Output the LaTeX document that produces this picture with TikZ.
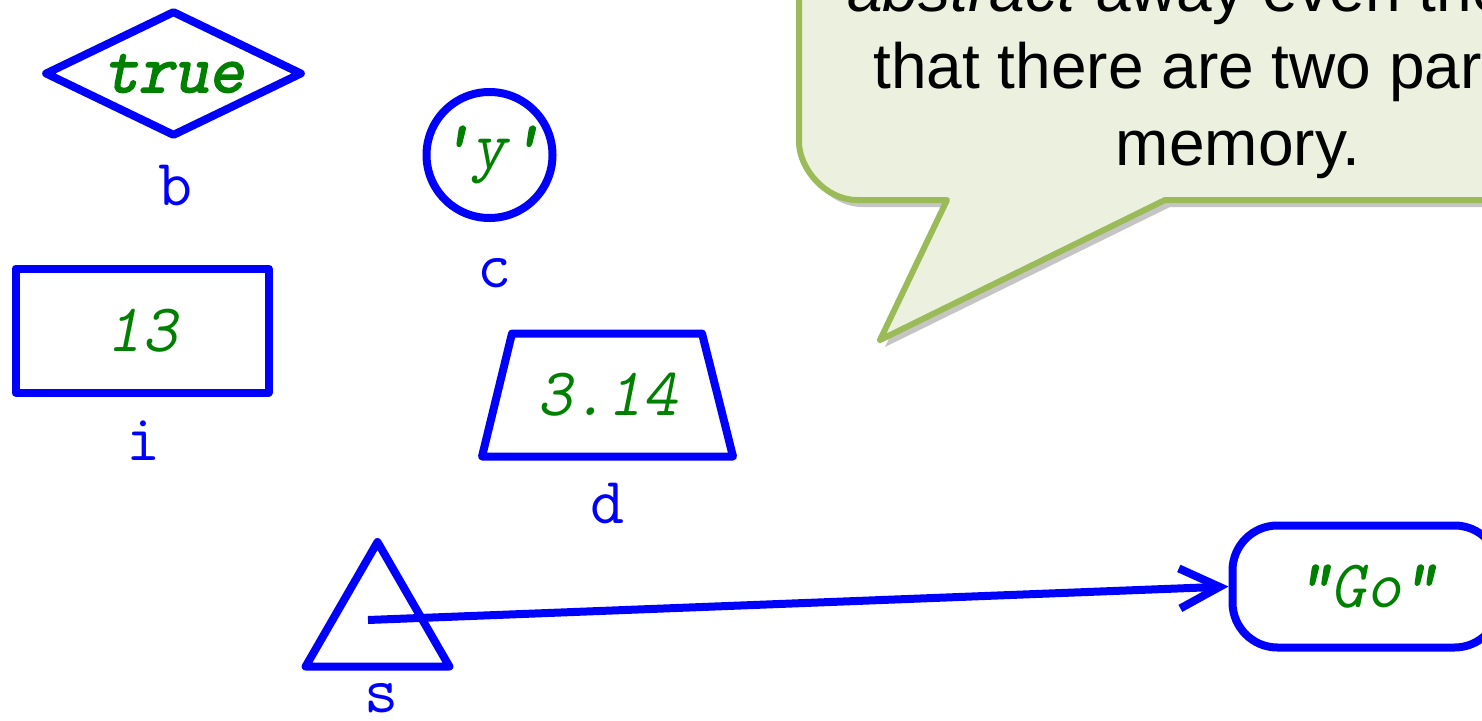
\documentclass[tikz,border=0pt]{standalone}
\usepackage{fontspec}
\setmainfont{Liberation Sans}
\newfontfamily\codebold[FakeBold=2.5,FakeSlant=0.2]{Latin Modern Mono}
\newfontfamily\codeslant[FakeSlant=0.2]{Latin Modern Mono}
\newfontfamily\codeplain{Latin Modern Mono}
\usetikzlibrary{shapes.geometric,arrows.meta}
\definecolor{vblue}{RGB}{0,0,255}
\definecolor{vgreen}{RGB}{0,128,0}
\definecolor{cfill}{HTML}{EBF1DE}
\definecolor{cline}{HTML}{9BBB59}
\newcommand\calloutshape{(1700,200) -- (1165,200) -- (880,340) -- (947,200) -- (857,200) .. controls (825,200) and (799,168) .. (799,142) -- (799,-200) -- (1700,-200) -- cycle}
\begin{document}
\begin{tikzpicture}[x=1pt,y=-1pt,
  shp/.style={draw=vblue, line width=8pt, line join=round, inner sep=0pt,
    font=\fontsize{68}{68}\selectfont\codeslant, text=vgreen},
  lbl/.style={font=\fontsize{66}{66}\selectfont\codeplain, text=vblue, anchor=base, inner sep=0pt},
  ctext/.style={font=\fontsize{64}{77}\selectfont, text=black, anchor=base, inner sep=0pt},
  conn/.style={draw=vblue, line width=8pt, -{Straight Barb[length=40pt,width=40pt]}}]
\useasboundingbox (0,0) rectangle (1482,720);
\clip (0,0) rectangle (1482,720);
% callout
\fill[black!45, opacity=0.5, shift={(5,7)}] \calloutshape;
\draw[fill=cfill, draw=cline, line width=6pt, line join=round] \calloutshape;
\node[ctext] (l1) at (1238,11) {\textit{abstract} away even the fact};
\node[ctext] (l2) at (1238,88) {that there are two parts of};
\node[ctext] (l3) at (1238,165) {memory.};
% values
\node[shp, diamond, aspect=2.05, minimum width=258pt, minimum height=126pt] (b) at (173.5,73.5) {\codebold true};
\node[lbl] (bl) at (175,205) {b};
\node[shp, circle, minimum size=126pt] (c) at (489.5,155) {{\codebold'}y{\codebold'}};
\node[lbl] (cl) at (494,287) {c};
\node[shp, rectangle, minimum width=253pt, minimum height=124pt] (i) at (142,330.5) {13};
\node[lbl] (il) at (143,460) {i};
\node[shp, draw=none, rectangle, outer sep=0pt, minimum width=251pt, minimum height=123pt] (d) at (607.5,395) {3.14};
\draw[draw=vblue, line width=8pt, line join=round] (d.south west) -- ([xshift=30pt]d.north west) -- ([xshift=-31pt]d.north east) -- (d.south east) -- cycle;
\node[lbl] (dl) at (607,523) {d};
\node[shp, regular polygon, regular polygon sides=3, minimum size=166pt] (s) at (377.5,625) {};
\node[lbl] (sl) at (381,712) {s};
\node[shp, rectangle, rounded corners=45pt, minimum width=267pt, minimum height=122pt] (go) at (1366,586.5) {{\codebold"}Go{\codebold"}};
\coordinate (sfrom) at (368,620);
\draw[conn] (sfrom) -- (go.west);
\end{tikzpicture}
\end{document}
